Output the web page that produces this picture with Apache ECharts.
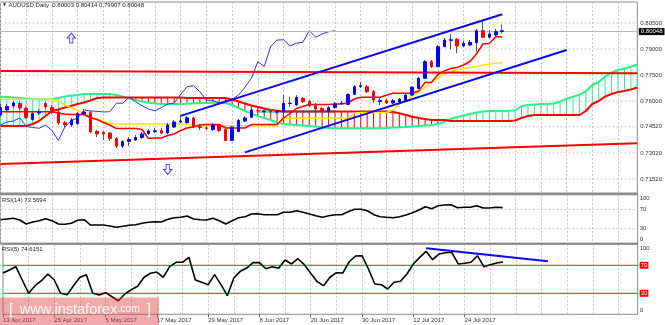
<!DOCTYPE html>
<html><head><meta charset="utf-8">
<script src="https://cdn.jsdelivr.net/npm/echarts@6/dist/echarts.min.js"></script>
<style>html,body{margin:0;padding:0;background:#fff}#c{width:665px;height:325px}</style>
</head><body><div id="c"></div>
<script>
// ---------- DATA ----------
const dates = ['13 Apr 2017','14 Apr 2017','17 Apr 2017','18 Apr 2017','19 Apr 2017','20 Apr 2017','21 Apr 2017','24 Apr 2017','25 Apr 2017','26 Apr 2017','27 Apr 2017','28 Apr 2017',
'1 May 2017','2 May 2017','3 May 2017','4 May 2017','5 May 2017','8 May 2017','9 May 2017','10 May 2017','11 May 2017','12 May 2017','15 May 2017','16 May 2017','17 May 2017','18 May 2017','19 May 2017','22 May 2017','23 May 2017','24 May 2017','25 May 2017','26 May 2017','29 May 2017','30 May 2017','31 May 2017',
'1 Jun 2017','2 Jun 2017','5 Jun 2017','6 Jun 2017','7 Jun 2017','8 Jun 2017','9 Jun 2017','12 Jun 2017','13 Jun 2017','14 Jun 2017','15 Jun 2017','16 Jun 2017','19 Jun 2017','20 Jun 2017','21 Jun 2017','22 Jun 2017','23 Jun 2017','26 Jun 2017','27 Jun 2017','28 Jun 2017','29 Jun 2017','30 Jun 2017',
'3 Jul 2017','4 Jul 2017','5 Jul 2017','6 Jul 2017','7 Jul 2017','10 Jul 2017','11 Jul 2017','12 Jul 2017','13 Jul 2017','14 Jul 2017','17 Jul 2017','18 Jul 2017','19 Jul 2017','20 Jul 2017','21 Jul 2017','24 Jul 2017','25 Jul 2017','26 Jul 2017','27 Jul 2017','28 Jul 2017','31 Jul 2017','1 Aug 2017'];
const futureBars = 21;   // Ichimoku cloud projected ahead

const opens = [0.75201,0.75489,0.75719,0.75863,0.75575,0.74942,0.75316,0.75863,0.75632,0.75374,
0.74758,0.74626,0.74712,0.75258,0.75333,0.74252,0.74194,0.74165,0.73849,0.73417,
0.73676,0.73762,0.73906,0.74136,0.74252,0.74309,0.74165,0.74510,0.74798,0.74769,
0.75028,0.74522,0.74453,0.74367,0.74626,0.74367,0.73734,0.74252,0.74856,0.75069,
0.75460,0.75402,0.75402,0.75374,0.75374,0.75863,0.75776,0.76162,0.75966,0.75736,
0.75575,0.75391,0.75632,0.75863,0.75817,0.76392,0.76841,0.76829,0.76542,0.75978,
0.76024,0.75891,0.75966,0.76035,0.76352,0.76737,0.77313,0.78268,0.77980,0.79131,
0.79499,0.79557,0.79171,0.79229,0.79361,0.80052,0.79672,0.79804,0.80003];
const closes = [0.75632,0.75690,0.75891,0.75604,0.75057,0.75287,0.75402,0.75661,0.75345,0.74741,
0.74643,0.74913,0.75287,0.75374,0.74223,0.74108,0.74108,0.73849,0.73417,0.73676,
0.73791,0.73906,0.74108,0.74280,0.74292,0.74165,0.74626,0.74798,0.74856,0.75040,
0.74539,0.74482,0.74436,0.74626,0.74309,0.73734,0.74510,0.74884,0.75028,0.75489,
0.75431,0.75414,0.75374,0.75391,0.75874,0.75880,0.76219,0.75966,0.75736,0.75546,
0.75443,0.75621,0.75834,0.75891,0.76380,0.76829,0.76887,0.76542,0.76064,0.76035,
0.75891,0.76024,0.76104,0.76352,0.76795,0.77313,0.78268,0.77992,0.79131,0.79516,
0.79528,0.79171,0.79327,0.79384,0.80052,0.79672,0.79862,0.79994,0.80048];
const lows = [0.75086,0.75374,0.75604,0.75489,0.74971,0.74856,0.75201,0.75546,0.75258,0.74626,
0.74510,0.74510,0.74626,0.75172,0.74136,0.73935,0.73762,0.73705,0.73302,0.73302,
0.73417,0.73705,0.73820,0.74050,0.74165,0.74108,0.74108,0.74453,0.74741,0.74683,
0.74453,0.74338,0.74338,0.74280,0.74223,0.73705,0.73705,0.74223,0.74798,0.75028,
0.75345,0.75316,0.75316,0.75258,0.75316,0.75679,0.75719,0.75891,0.75661,0.75374,
0.75316,0.75316,0.75546,0.75776,0.75776,0.76352,0.76754,0.76467,0.75909,0.75776,
0.75834,0.75834,0.75891,0.76006,0.76294,0.76697,0.77272,0.77905,0.77963,0.79114,
0.78981,0.78751,0.79114,0.79171,0.78850,0.79632,0.79603,0.79747,0.79907];
const highs = [0.75834,0.75834,0.76006,0.75978,0.75661,0.75374,0.75546,0.75949,0.75776,0.75489,
0.74856,0.75028,0.75374,0.75546,0.75431,0.74338,0.74280,0.74223,0.73935,0.73762,
0.73935,0.74050,0.74223,0.74395,0.74453,0.74453,0.74741,0.74913,0.75201,0.75143,
0.75086,0.74683,0.74568,0.74741,0.74683,0.74453,0.74568,0.74971,0.75143,0.75604,
0.75546,0.75489,0.75489,0.75489,0.76352,0.76254,0.76352,0.76237,0.76064,0.75891,
0.75661,0.75719,0.75949,0.76006,0.76467,0.76927,0.77117,0.76927,0.76639,0.76237,
0.76122,0.76122,0.76179,0.76409,0.76870,0.77387,0.78366,0.78366,0.79229,0.79632,
0.79862,0.79632,0.79476,0.79516,0.80149,0.80667,0.80092,0.80149,0.80414];

const tenkan = [0.75391,0.75391,0.75391,0.75391,0.75391,0.75391,0.75391,0.75391,0.75391,0.75316,
0.75258,0.75230,0.75230,0.75230,0.75045,0.74942,0.74769,0.74626,0.74424,0.74424,
0.74424,0.74424,0.74367,0.73849,0.73878,0.73878,0.74022,0.74108,0.74309,0.74453,
0.74510,0.74626,0.74654,0.74654,0.74654,0.74453,0.74453,0.74453,0.74453,0.74654,
0.74654,0.74654,0.74654,0.74654,0.75028,0.75287,0.75575,0.75690,0.75805,0.75805,
0.75805,0.75805,0.75834,0.75834,0.75891,0.76122,0.76219,0.76219,0.76219,0.76219,
0.76334,0.76450,0.76450,0.76450,0.76450,0.76582,0.77071,0.77071,0.77531,0.77733,
0.77876,0.77934,0.78078,0.78279,0.78711,0.79286,0.79315,0.79706,0.79706];
const kijun = [0.76104,0.76104,0.76104,0.76104,0.76104,0.76104,0.76104,0.76104,0.76104,0.76006,
0.75776,0.75604,0.75460,0.75299,0.75086,0.74971,0.74815,0.74741,0.74683,0.74683,
0.74683,0.74683,0.74683,0.74683,0.74683,0.74683,0.74683,0.74683,0.74683,0.74683,
0.74585,0.74585,0.74585,0.74585,0.74585,0.74585,0.74585,0.74585,0.74585,0.74585,
0.74585,0.74585,0.74585,0.74585,0.75011,0.75011,0.75011,0.75011,0.75011,0.75011,
0.75011,0.75011,0.75011,0.75011,0.75011,0.75299,0.75345,0.75345,0.75345,0.75345,
0.75345,0.75489,0.75834,0.76064,0.76294,0.76524,0.76812,0.77100,0.77330,0.77560,
0.77692,0.77790,0.77876,0.77934,0.78003,0.78078,0.78135,0.78176,0.78210];
const spanA = [0.76254,0.76237,0.76208,0.76179,0.76150,0.76122,0.76104,0.76104,0.76122,0.76179,
0.76265,0.76323,0.76352,0.76409,0.76409,0.76409,0.76409,0.76409,0.76352,0.76265,
0.76162,0.76064,0.75978,0.75909,0.75863,0.75834,0.75834,0.75834,0.75834,0.75851,
0.75874,0.75874,0.75891,0.75909,0.75909,0.75891,0.75776,0.75604,0.75431,0.75287,
0.75143,0.75028,0.74913,0.74769,0.74683,0.74654,0.74626,0.74597,0.74568,0.74539,
0.74482,0.74453,0.74436,0.74436,0.74436,0.74436,0.74436,0.74436,0.74436,0.74436,
0.74453,0.74482,0.74493,0.74510,0.74539,0.74568,0.74597,0.74626,0.74683,0.74815,
0.74971,0.75086,0.75172,0.75258,0.75345,0.75402,0.75431,0.75431,0.75431,0.75448,
0.75460,0.75719,0.75776,0.75805,0.75834,0.75834,0.75863,0.75966,0.76139,0.76254,
0.76375,0.76553,0.76927,0.77100,0.77416,0.77646,0.77790,0.77865,0.77980,0.78107];
const spanB = [0.74568,0.74568,0.74568,0.74568,0.74568,0.74683,0.74856,0.75143,0.75431,0.75517,
0.75632,0.75719,0.75834,0.75920,0.76035,0.76179,0.76208,0.76208,0.76208,0.76208,
0.76208,0.76208,0.76208,0.76208,0.76208,0.76208,0.76208,0.76208,0.76208,0.76179,
0.76179,0.76179,0.76179,0.76179,0.76179,0.76179,0.76093,0.75978,0.75863,0.75748,
0.75661,0.75575,0.75489,0.75448,0.75402,0.75402,0.75402,0.75402,0.75402,0.75402,
0.75402,0.75402,0.75402,0.75402,0.75402,0.75402,0.75402,0.75402,0.75402,0.75402,
0.75402,0.75374,0.75299,0.75201,0.75103,0.75028,0.74971,0.74913,0.74913,0.74913,
0.74856,0.74856,0.74856,0.74856,0.74856,0.74856,0.74856,0.74856,0.74856,0.74856,
0.74884,0.75028,0.75143,0.75201,0.75201,0.75201,0.75201,0.75201,0.75201,0.75201,
0.75201,0.75431,0.75834,0.76006,0.76265,0.76409,0.76524,0.76582,0.76668,0.76783];
const chikou = [0.74626,0.74798,0.74856,0.75040,0.74539,0.74482,0.74436,0.74626,0.74309,0.73734,
0.74510,0.74884,0.75028,0.75489,0.75431,0.75414,0.75374,0.75391,0.75874,0.75880,
0.76219,0.75966,0.75736,0.75546,0.75443,0.75621,0.75834,0.75891,0.76380,0.76829,
0.76887,0.76542,0.76064,0.76035,0.75891,0.76024,0.76104,0.76352,0.76795,0.77313,
0.78268,0.77992,0.79131,0.79516,0.79528,0.79171,0.79327,0.79384,0.80052,0.79672,
0.79862,0.79994,0.80048];
const zoneBand = [[40,0.75402],[52,0.75402]];

const rsi14 = [48.7,50.1,51.5,48.0,39.8,43.9,46.6,50.7,46.6,39.8,
39.2,41.2,47.4,48.7,37.7,37.7,37.7,35.7,33.0,35.0,
37.1,38.4,41.2,43.3,44.5,43.9,49.5,52.8,53.6,56.3,
50.1,48.7,48.0,51.5,46.6,39.8,46.6,52.8,54.8,60.4,
61.1,59.0,59.0,59.0,63.9,63.9,67.2,63.9,60.4,56.9,
53.6,56.9,59.0,59.0,65.2,70.1,70.1,67.2,59.0,54.8,
53.6,52.8,54.8,58.4,63.1,68.7,75.5,71.3,77.5,79.0,
79.6,73.4,74.2,74.2,77.5,72.8,72.8,74.2,73.5694];
const rsi5 = [59.0,63.3,68.0,49.0,30.0,40.9,48.0,57.6,49.0,30.0,
28.0,40.9,52.9,56.6,30.0,27.6,30.9,25.1,19.4,29.0,
35.1,40.0,52.9,58.6,60.4,52.9,68.0,74.3,74.3,81.4,
49.0,45.7,42.3,56.6,42.3,26.6,51.9,61.4,66.1,73.8,
73.8,65.1,68.0,65.7,77.6,71.9,79.4,70.9,58.6,46.6,
40.9,52.9,59.4,59.0,75.1,83.3,83.7,64.7,43.3,42.3,
36.1,45.7,47.1,57.6,71.9,81.4,90.0,78.0,86.1,88.0,
88.6,71.9,72.9,74.3,83.7,68.0,70.9,73.3,74.6151];
const rsiLevels = [30, 70];

const priceTicks = [0.805, 0.790, 0.775, 0.760, 0.7452, 0.7302, 0.7152];
const priceTickLabels = ['0.80500','0.79000','0.77500','0.76000','0.74520','0.73020','0.71520'];
const symbolName = 'AUDUSD,Daily';

// drawn objects (value coordinates: [bar index, price])
const resistLine = [[0,0.77733],[99,0.77600]];
const supportLine = [[0,0.72381],[99,0.73572]];
const channelUpper = [[28,0.75149],[78,0.81001]];
const channelLower = [[38,0.73049],[88,0.78941]];
const rsi5Trend = [[66,94.3],[85,75.9]];
const arrowUp = [[11,0.79632]];
const arrowDown = [[26,0.72065]];

// ---------- CHART ----------
const N = dates.length + futureBars;
const cats = Array.from({length:N}, (_,i) => i < dates.length ? dates[i] : ('+' + (i - dates.length + 1)));
const last = dates.length - 1;
const C = {bull:'#0000ff', bear:'#ff0000', wick:'#555555', tenkan:'#ff0000', kijun:'#ffe600',
  spanA:'#2cf08a', spanB:'#ff0000', chikou:'#3030ff', zone:'#5fe4e4', blue:'#0a0ae6', red:'#ff0000',
  grid:'#c6c6c6', frame:'#8a8a8a', text:'#333333'};
const FONT = 'Liberation Sans, Arial, sans-serif';
const labelFn = (i) => i % 8 === 0 && i <= 72;
const gridFn = (i) => i % 4 === 0;

const grids = [
  {left:0.5, right:27.3, top:2, height:191},
  {left:0.5, right:27.3, top:194.8, height:48.5},
  {left:0.5, right:27.3, top:244.3, height:70}
].map(g => Object.assign(g, {show:true, borderColor:C.frame, borderWidth:1, backgroundColor:'#fff'}));

const xAxes = [0,1,2].map(g => ({
  type:'category', gridIndex:g, data:cats, boundaryGap:false,
  axisLine:{show:false},
  axisTick:{show:g===2, interval:labelFn, length:3, lineStyle:{color:'#666'}},
  axisLabel:{show:g===2, interval:labelFn, formatter:(v,i)=> (i < dates.length ? dates[i] : ''),
    align:'left', fontSize:6, color:C.text, margin:3, fontFamily:FONT},
  splitLine:{show:true, interval:gridFn, lineStyle:{color:C.grid, width:1, type:[2,2]}}
}));

const yAxes = [
  {type:'value', gridIndex:0, position:'right', min:0.707128, max:0.817029,
   axisLine:{show:false}, axisTick:{show:false}, splitLine:{show:false},
   axisLabel:{customValues:priceTicks, fontSize:6, color:C.text, margin:3, fontFamily:FONT,
     formatter:(v)=>{const k = priceTicks.findIndex(t=>Math.abs(t-v)<1e-6); return k>=0 ? priceTickLabels[k] : '';}}},
  {type:'value', gridIndex:1, position:'right', min:0, max:100, interval:10,
   axisLine:{show:false}, axisTick:{show:false}, splitLine:{show:false},
   axisLabel:{fontSize:6, color:C.text, margin:2, fontFamily:FONT,
     formatter:(v)=> v===100?'{t|100}': v===0?'{b|0}': (v===70||v===30)? String(v):'',
     rich:{t:{fontSize:6, padding:[7,0,0,0]}, b:{fontSize:6, padding:[0,0,8,0]}}}},
  {type:'value', gridIndex:2, position:'right', min:0, max:100, interval:10,
   axisLine:{show:false}, axisTick:{show:false}, splitLine:{show:false},
   axisLabel:{fontSize:6, color:C.text, margin:2, fontFamily:FONT,
     formatter:(v)=> v===100?'{t|100}': v===0?'{b|0}': (v===70||v===30)? '{r|'+v+'}':'',
     rich:{t:{fontSize:6, padding:[8,0,0,0]}, b:{fontSize:6, padding:[0,0,8,0]},
       r:{fontSize:6, color:'#fff', backgroundColor:'#ff0000', padding:[1,1,0,1]}}}}
];

const series = [];
const lineS = (data, color, width, z, extra) => Object.assign({
  type:'line', xAxisIndex:0, yAxisIndex:0, data, symbol:'none', silent:true, z,
  lineStyle:{color, width}, animation:false}, extra || {});

// price grid lines
priceTicks.forEach(v => series.push(lineS([[0,v],[N-1,v]], C.grid, 1, 0, {lineStyle:{color:C.grid, width:1, type:[2,2]}})));
// cyan zone band
series.push(lineS(zoneBand, C.zone, 3, 1));
// cloud hatch
series.push({type:'custom', xAxisIndex:0, yAxisIndex:0, silent:true, z:2, clip:true,
  data: spanA.map((a,i) => [i, a, spanB[i]]),
  renderItem:(params, api) => {
    const i = api.value(0), a = api.value(1), b = api.value(2);
    const p1 = api.coord([i,a]), p2 = api.coord([i,b]);
    return {type:'line', shape:{x1:p1[0], y1:p1[1], x2:p2[0], y2:p2[1]},
      style:{stroke: a >= b ? C.spanA : C.spanB, lineWidth:1}};
  }});
series.push(lineS(spanA, C.spanA, 2, 3));
series.push(lineS(spanB, C.spanB, 2, 3));
series.push(lineS(kijun, C.kijun, 1.5, 4));
series.push(lineS(tenkan, C.tenkan, 1.5, 4));
series.push(lineS(chikou, C.chikou, 1, 4));
series.push(lineS(resistLine, C.red, 2, 5));
series.push(lineS(supportLine, C.red, 2, 5));
// candles: wicks then bodies
series.push({type:'candlestick', xAxisIndex:0, yAxisIndex:0, silent:true, z:6, barWidth:1,
  data: opens.map((o,i)=>[o, closes[i], lows[i], highs[i]]),
  itemStyle:{color:C.wick, color0:C.wick, borderColor:C.wick, borderColor0:C.wick, borderWidth:1}});
series.push({type:'candlestick', xAxisIndex:0, yAxisIndex:0, silent:true, z:7, barWidth:3,
  data: opens.map((o,i)=>[o, closes[i], Math.min(o,closes[i]), Math.max(o,closes[i])]),
  itemStyle:{color:C.bull, color0:C.bear, borderColor:C.bull, borderColor0:C.bear, borderWidth:1},
  markLine:{silent:true, symbol:'none', animation:false,
    data:[{yAxis:closes[last]}],
    lineStyle:{color:'#b8b8b8', type:'solid', width:1},
    label:{position:'end', distance:1.5, formatter:closes[last].toFixed(5), backgroundColor:'#000',
      color:'#fff', fontSize:6, padding:[1,2,0,2], fontFamily:FONT}}});
series.push(lineS(channelUpper, C.blue, 2, 8));
series.push(lineS(channelLower, C.blue, 2, 8));
const arrowPath = 'path://M4,0 L8,5 L5.6,5 L5.6,10 L2.4,10 L2.4,5 L0,5 Z';
series.push({type:'scatter', xAxisIndex:0, yAxisIndex:0, data:arrowUp, symbol:arrowPath, symbolSize:[8,10],
  silent:true, z:9, itemStyle:{color:'#fff', borderColor:'#1a1aff', borderWidth:1}});
series.push({type:'scatter', xAxisIndex:0, yAxisIndex:0, data:arrowDown, symbol:arrowPath, symbolSize:[8,10],
  symbolRotate:180, silent:true, z:9, itemStyle:{color:'#fff', borderColor:'#1a1aff', borderWidth:1}});

// RSI(14)
rsiLevels.forEach(v => series.push({type:'line', xAxisIndex:1, yAxisIndex:1, data:[[0,v],[N-1,v]], symbol:'none',
  silent:true, z:1, lineStyle:{color:C.grid, width:1, type:[2,2]}}));
series.push({type:'line', xAxisIndex:1, yAxisIndex:1, data:rsi14, symbol:'none', silent:true, z:3,
  lineStyle:{color:'#000', width:1.6}});
// RSI(5)
rsiLevels.forEach(v => series.push({type:'line', xAxisIndex:2, yAxisIndex:2, data:[[0,v],[N-1,v]], symbol:'none',
  silent:true, z:1, lineStyle:{color:'#ff2020', width:1}}));
series.push({type:'line', xAxisIndex:2, yAxisIndex:2, data:rsi5, symbol:'none', silent:true, z:3,
  lineStyle:{color:'#000', width:1.6}});
series.push({type:'line', xAxisIndex:2, yAxisIndex:2, data:rsi5Trend, symbol:'none', silent:true, z:4,
  lineStyle:{color:C.blue, width:2}});

const headerText = '{tri|▼} ' + symbolName + '  ' +
  [opens[last], highs[last], lows[last], closes[last]].map(v=>v.toFixed(5)).join(' ');
const titleStyle = {fontSize:6, fontWeight:'normal', color:'#222', fontFamily:FONT};

const option = {
  animation:false,
  backgroundColor:'#fff',
  textStyle:{fontFamily:FONT},
  title:[
    {text:headerText, left:2, top:2, padding:0, textStyle:Object.assign({rich:{tri:{fontSize:5, color:'#222'}}}, titleStyle)},
    {text:'RSI(14) ' + rsi14[last].toFixed(4), left:2, top:197, padding:0, textStyle:titleStyle},
    {text:'RSI(5) ' + rsi5[last].toFixed(4), left:2, top:246.5, padding:0, textStyle:titleStyle}
  ],
  grid:grids, xAxis:xAxes, yAxis:yAxes, series,
  graphic:[
    {type:'rect', shape:{x:0, y:193.1, width:638.2, height:1.8}, style:{fill:'#8c8c8c'}, z:50, silent:true},
    {type:'rect', shape:{x:0, y:242.7, width:638.2, height:1.8}, style:{fill:'#8c8c8c'}, z:50, silent:true},
    {type:'rect', shape:{x:0, y:297.5, width:159, height:28}, style:{fill:'rgba(222,66,66,0.45)'}, z:100, silent:true},
    {type:'text', x:9, y:302, z:101, silent:true,
      style:{text:'{a|[}  {b|www.instaforex}{c|.com}  {a|]}', fill:'rgba(255,255,255,0.92)',
        rich:{a:{fontSize:15, fill:'rgba(255,255,255,0.92)', fontFamily:FONT},
              b:{fontSize:14.5, fill:'rgba(255,255,255,0.92)', fontFamily:FONT},
              c:{fontSize:10.5, fill:'rgba(255,255,255,0.92)', fontFamily:FONT}}}}
  ]
};
const chart = echarts.init(document.getElementById('c'), null, {renderer:'canvas', width:665, height:325});
chart.setOption(option);
</script>
</body></html>
